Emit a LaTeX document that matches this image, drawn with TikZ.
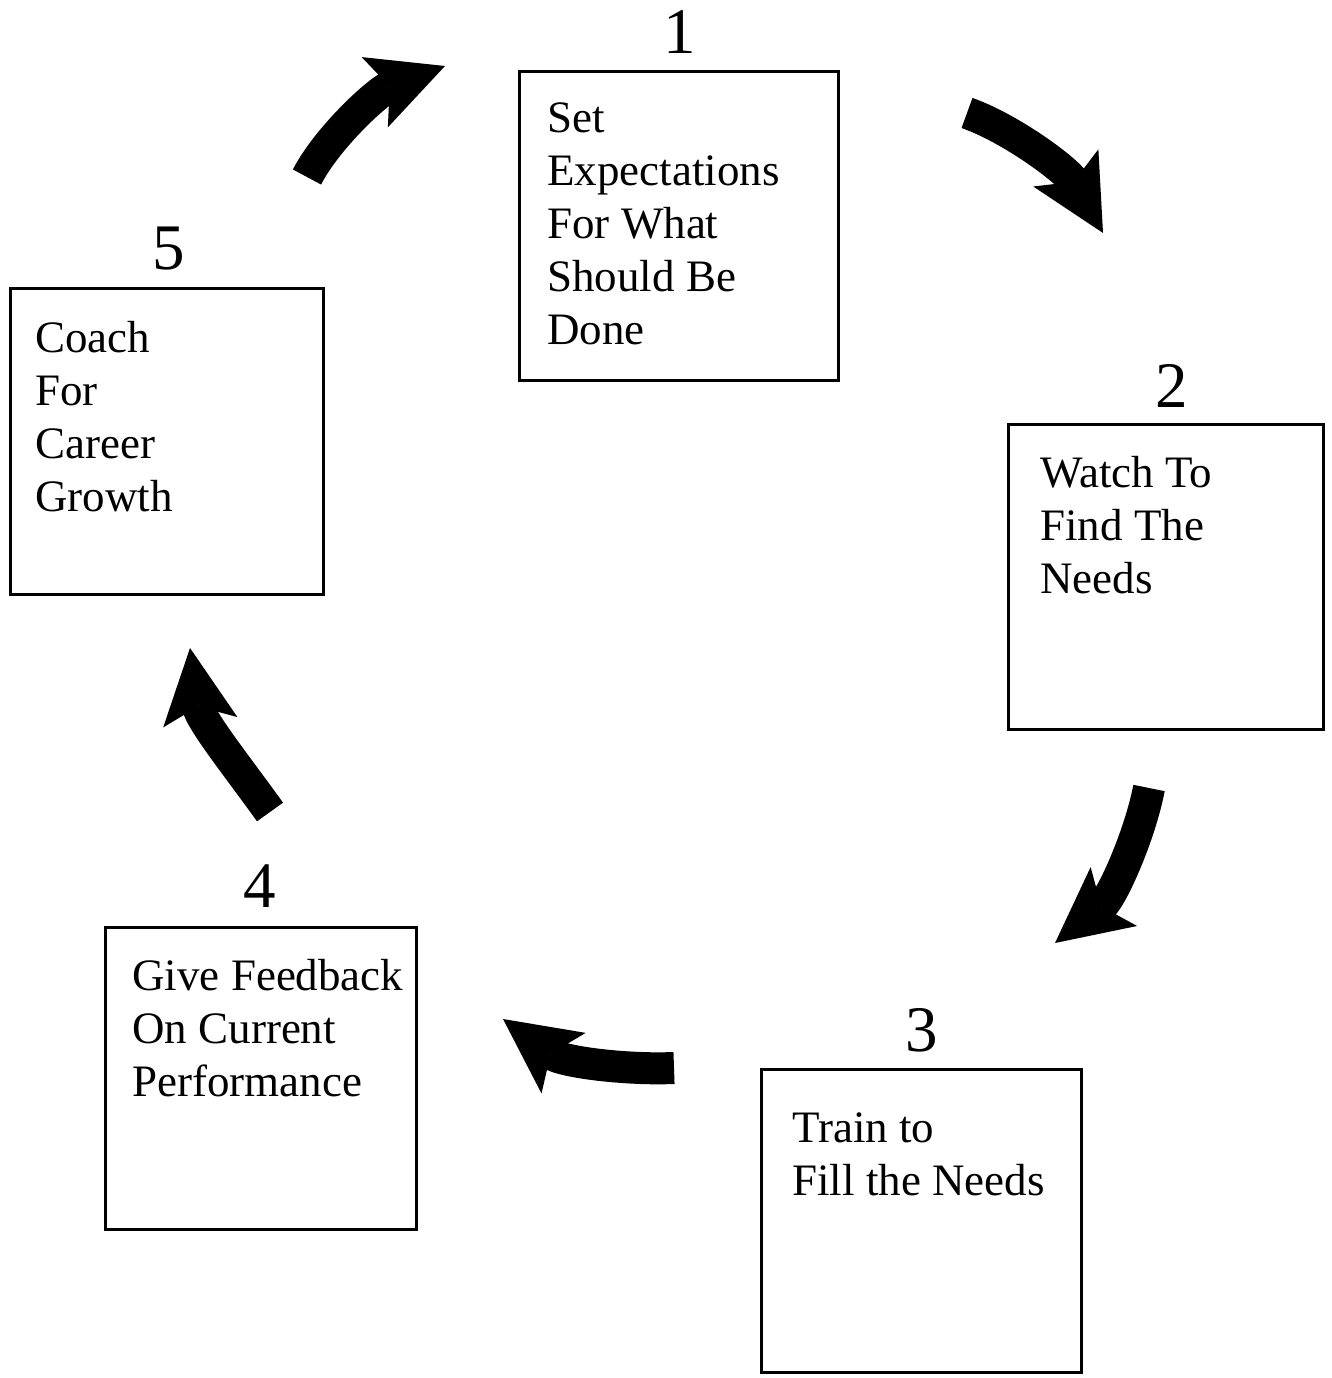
\documentclass[tikz,border=0pt]{standalone}
\usepackage{fontspec}
\setmainfont{Liberation Serif}
\usetikzlibrary{arrows.meta}
\begin{document}
\begin{tikzpicture}[x=0.02cm,y=-0.02cm,
  box/.style={draw,line width=1.7pt,inner sep=0pt},
  boxtext/.style={anchor=north west,inner sep=0pt,align=left,font=\fontsize{25.6pt}{30.2pt}\selectfont},
  num/.style={anchor=base,inner sep=0pt,font=\fontsize{37pt}{40pt}\selectfont},
  bigarrow/.style={line width=0.64cm,-{Stealth[length=1.5cm,width=1.5cm,inset=0.32cm,line width=0pt 0 0]}}]
\fill[white] (0,0) rectangle (1331,1378);
\useasboundingbox (0,0) rectangle (1331,1378);
% boxes
\node[box,minimum width=6.4cm,minimum height=6.2cm] (b1) at (679,226) {};
\node[box,minimum width=6.32cm,minimum height=6.12cm] (b2) at (1166,577) {};
\node[box,minimum width=6.42cm,minimum height=6.08cm] (b3) at (921.5,1221) {};
\node[box,minimum width=6.24cm,minimum height=6.06cm] (b4) at (261,1078.5) {};
\node[box,minimum width=6.28cm,minimum height=6.14cm] (b5) at (167,441.5) {};
% numbers
\node[num] (n1) at (680,54) {1};
\node[num] (n2) at (1172,407) {2};
\node[num] (n3) at (922,1051) {3};
\node[num] (n4) at (260,907) {4};
\node[num] (n5) at (169,270) {5};
% texts
\node[boxtext] (t1) at (547,102) {Set\\Expectations\\For What\\Should Be\\Done};
\node[boxtext] (t2) at (1040,456) {Watch To\\Find The\\Needs};
\node[boxtext] (t3) at (792,1112) {Train to\\Fill the Needs};
\node[boxtext] (t4) at (132,959) {Give Feedback\\On Current\\Performance};
\node[boxtext] (t5) at (35,321) {Coach\\For\\Career\\Growth};
% arrow ends
\coordinate (a1s) at (307,177); \coordinate (a1e) at (445,66);
\coordinate (a2s) at (967,113); \coordinate (a2e) at (1103,233);
\coordinate (a3s) at (1149,788); \coordinate (a3e) at (1055,943);
\coordinate (a4s) at (674,1068); \coordinate (a4e) at (503,1019);
\coordinate (a5s) at (270,812); \coordinate (a5e) at (190,648);
% arrows
\draw[bigarrow] (a1s) .. controls (327,138) and (378,91) .. (a1e);
\draw[bigarrow] (a2s) .. controls (1010,128) and (1067,170) .. (a2e);
\draw[bigarrow] (a3s) .. controls (1140,835) and (1112,898) .. (a3e);
\draw[bigarrow] (a4s) .. controls (625,1070) and (562,1062) .. (a4e);
\draw[bigarrow] (a5s) .. controls (240,770) and (200,720) .. (a5e);
\end{tikzpicture}
\end{document}
